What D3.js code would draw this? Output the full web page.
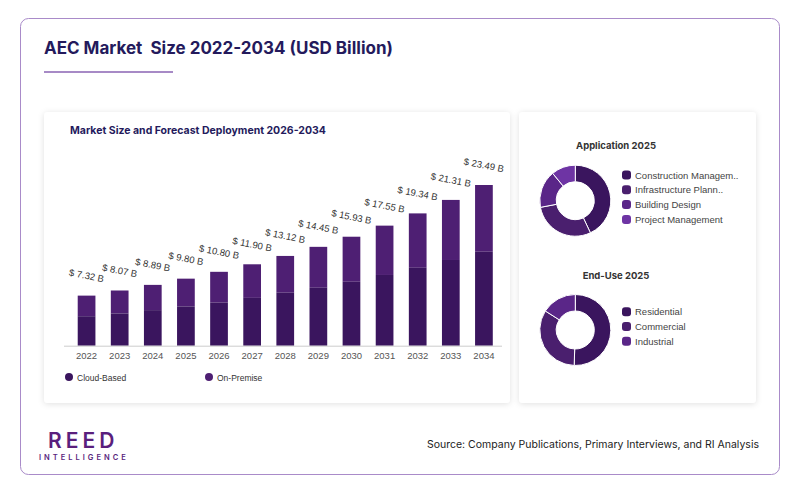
<!DOCTYPE html>
<html><head><meta charset="utf-8">
<script src="https://cdn.jsdelivr.net/npm/d3@7"></script>
<style>body{margin:0;background:#fff;font-family:Inter,"Liberation Sans",Arial,sans-serif}</style>
</head><body><svg id="c" width="800" height="493"></svg>
<script>
const years=["2022","2023","2024","2025","2026","2027","2028","2029","2030","2031","2032","2033","2034"];
const totals=[7.32,8.07,8.89,9.80,10.80,11.90,13.12,14.45,15.93,17.55,19.34,21.31,23.49];
const cloud=[4.31,4.70,5.20,5.74,6.30,6.99,7.75,8.47,9.35,10.34,11.39,12.53,13.74];
const appLabels=["Construction Managem..","Infrastructure Plann..","Building Design","Project Management"];
const appValues=[43,29,17,11];
const endLabels=["Residential","Commercial","Industrial"];
const endValues=[50.5,33.5,16];
const seriesNames=["Cloud-Based","On-Premise"];

const svg=d3.select("#c");
const defs=svg.append("defs");
const f=defs.append("filter").attr("id","sh").attr("x","-10%").attr("y","-10%").attr("width","120%").attr("height","120%");
f.append("feDropShadow").attr("dx",0).attr("dy",1).attr("stdDeviation",3).attr("flood-color","#000").attr("flood-opacity",0.12);

svg.append("rect").attr("x",20.5).attr("y",18.5).attr("width",759).attr("height",456).attr("rx",8).attr("fill","#fff").attr("stroke","#a98bc9").attr("stroke-width",1);
svg.append("text").attr("x",44).attr("y",54).style("white-space","pre").text("AEC Market  Size 2022-2034 (USD Billion)").attr("font-size",17).attr("font-weight",700).attr("fill","#241a5c").attr("font-family","Inter, Liberation Sans, Arial");
svg.append("line").attr("x1",44).attr("x2",173).attr("y1",72).attr("y2",72).attr("stroke","#8a63b3").attr("stroke-width",1.5);

svg.append("rect").attr("x",44).attr("y",112).attr("width",466).attr("height",291).attr("rx",4).attr("fill","#fff").attr("filter","url(#sh)");
svg.append("rect").attr("x",519).attr("y",112).attr("width",237).attr("height",291).attr("rx",4).attr("fill","#fff").attr("filter","url(#sh)");

svg.append("text").attr("x",70).attr("y",134).text("Market Size and Forecast Deployment 2026-2034").attr("font-size",10.5).attr("font-weight",700).attr("fill","#241a5c");

const x=d3.scaleBand().domain(years).range([70.1,500.4]).paddingInner(0.465).paddingOuter(0.23);
const y=d3.scaleLinear().domain([0,23.49]).range([345.7,185]);
const cCloud="#3a155e", cOn="#4e1f73";
const g=svg.append("g");
years.forEach((yr,i)=>{
  g.append("rect").attr("x",x(yr)).attr("width",x.bandwidth()).attr("y",y(totals[i])).attr("height",y(cloud[i])-y(totals[i])).attr("fill",cOn);
  g.append("rect").attr("x",x(yr)).attr("width",x.bandwidth()).attr("y",y(cloud[i])).attr("height",y(0)-y(cloud[i])).attr("fill",cCloud);
  const cx=x(yr)+x.bandwidth()/2, cy=y(totals[i])-20;
  g.append("text").attr("transform",`translate(${cx},${cy}) rotate(11)`).attr("text-anchor","middle").attr("dy","0.35em").attr("font-size",9.5).attr("fill","#333").attr("font-family","Liberation Sans, Arial").text("$ "+totals[i].toFixed(2)+" B");
});
const ax=svg.append("g").attr("transform","translate(0,345.7)").call(d3.axisBottom(x).tickSize(0).tickPadding(7));
ax.select(".domain").attr("stroke","#ccc").attr("d","M64,0.5H502");
ax.selectAll("text").attr("font-size",9.5).attr("fill","#555").attr("font-family","Liberation Sans, Arial");

[[69,cCloud],[209,cOn]].forEach((d,i)=>{
  svg.append("circle").attr("cx",d[0]).attr("cy",377).attr("r",4).attr("fill",d[1]);
  svg.append("text").attr("x",d[0]+8).attr("y",380.5).attr("font-size",8.5).attr("fill","#333").attr("font-family","Liberation Sans, Arial").text(seriesNames[i]);
});

const pal=["#3a155e","#4a1f6e","#5a2688","#6e34a4"];
function donut(title,ty,cy,labels,vals){
  svg.append("text").attr("x",616).attr("y",ty).attr("text-anchor","middle").attr("font-size",9.5).attr("font-weight",700).attr("fill","#333").text(title);
  const pie=d3.pie().sort(null)(vals);
  const arc=d3.arc().innerRadius(19).outerRadius(35.5);
  const gg=svg.append("g").attr("transform",`translate(575.3,${cy})`);
  gg.selectAll("path").data(pie).join("path").attr("d",arc).attr("fill",(d,i)=>pal[i]).attr("stroke","#fff").attr("stroke-width",1);
  const start=cy-3.5-(labels.length-1)*7.4;
  labels.forEach((l,i)=>{
    const yy=start+i*14.8;
    svg.append("rect").attr("x",622).attr("y",yy-4.5).attr("width",9).attr("height",9).attr("rx",3).attr("fill",pal[i]);
    svg.append("text").attr("x",635).attr("y",yy+3.5).attr("font-size",9.5).attr("fill","#444").attr("font-family","Liberation Sans, Arial").text(l);
  });
}
donut("Application 2025",149,200.7,appLabels,appValues);
donut("End-Use 2025",279,330,endLabels,endValues);

svg.append("text").attr("x",48).attr("y",448).text("REED").attr("font-size",21).attr("font-weight",600).attr("letter-spacing",4).attr("fill","#5a1f7d");
svg.append("text").attr("x",39).attr("y",460).text("INTELLIGENCE").attr("font-size",7.5).attr("font-weight",600).attr("letter-spacing",3).attr("fill","#5a1f7d");
svg.append("text").attr("x",759).attr("y",448).attr("text-anchor","end").text("Source: Company Publications, Primary Interviews, and RI Analysis").attr("font-size",10.5).attr("fill","#222");
</script></body></html>
